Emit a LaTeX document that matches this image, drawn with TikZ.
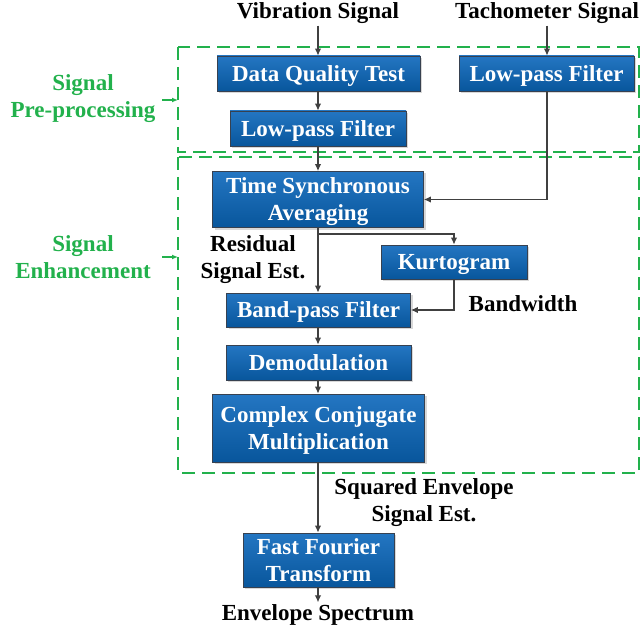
\documentclass[tikz,border=0pt]{standalone}
\usepackage{fontspec}
\setmainfont{Liberation Serif}
\usetikzlibrary{arrows.meta,shadows}
\definecolor{boxtop}{RGB}{36,118,194}
\definecolor{boxbot}{RGB}{8,86,156}
\definecolor{boxedge}{RGB}{55,65,80}
\definecolor{zonegreen}{RGB}{34,177,76}
\newcommand{\boxstrut}{\rule[-0.216em]{0pt}{1.106em}}
\newcommand{\tallstrut}{\rule{0pt}{0.9em}}
\tikzset{
	blk/.style={draw=boxedge, line width=0.8pt, top color=boxtop, bottom color=boxbot,
		text=white, font=\bfseries\fontsize{23}{27}\selectfont, align=center, inner sep=0pt,
		execute at begin node=\boxstrut, execute at end node=\boxstrut,
		drop shadow={shadow xshift=2pt, shadow yshift=-2pt, fill=black!30}},
	lbl/.style={font=\bfseries\fontsize{23}{27}\selectfont, align=center, inner sep=2pt},
	zonelbl/.style={lbl, text=zonegreen},
	flow/.style={draw=black!75, line width=1.2pt, -{Latex[length=7pt,width=6.5pt]}},
	zone/.style={draw=zonegreen, line width=2pt, dash pattern=on 13pt off 7pt},
}
\begin{document}
\begin{tikzpicture}[x=1pt, y=-1pt]
			%%%%% START %%%%%
			\useasboundingbox (0, 0) rectangle (641, 634);
			
			\draw[zone] (178, 47) rectangle (639, 152);
			\draw[zone] (178, 157) rectangle (639, 473);
			
			\node[zonelbl] (pre) at (83, 99) {Signal\\Pre-processing};
			\node[zonelbl] (enh) at (83, 257) {Signal\\Enhancement};
			\coordinate (preIn) at (178, 100);
			\coordinate (enhIn) at (178, 257);
			\draw[zonegreen, line width=1.2pt, -{Latex[length=6pt,width=5pt]}] (162, 100) -- (preIn);
			\draw[zonegreen, line width=1.2pt, -{Latex[length=6pt,width=5pt]}] (162, 257) -- (enhIn);
			
			\node[lbl] (vib) at (318, 13) {Vibration Signal};
			\node[lbl] (tach) at (547, 13) {Tachometer Signal};
			
			\node[blk, minimum width=203, minimum height=35] (dqt) at (318.5, 73.5) {Data Quality Test};
			\node[blk, minimum width=175, minimum height=35] (lpfR) at (546.5, 73.5) {Low-pass Filter};
			\node[blk, minimum width=176, minimum height=35] (lpfL) at (318, 128.5) {Low-pass Filter};
			\node[blk, minimum width=211, minimum height=56] (tsa) at (318, 199.5) {\tallstrut Time Synchronous\\Averaging};
			\node[blk, minimum width=146, minimum height=34] (kurt) at (454, 262) {Kurtogram};
			\node[blk, minimum width=184, minimum height=34] (bpf) at (318.5, 310) {Band-pass Filter};
			\node[blk, minimum width=185, minimum height=35] (demod) at (318.5, 362.5) {Demodulation};
			\node[blk, minimum width=212, minimum height=68] (ccm) at (318.5, 428) {\tallstrut Complex Conjugate\\Multiplication};
			\node[blk, minimum width=151, minimum height=54] (fft) at (318.5, 560) {\tallstrut Fast Fourier\\Transform};
			
			\node[lbl] (resid) at (253, 260) {Residual\\Signal Est.};
			\node[lbl] (bw) at (523, 304) {Bandwidth};
			\node[lbl] (sqenv) at (424, 503) {Squared Envelope\\Signal Est.};
			\node[lbl] (spec) at (318, 615) {Envelope Spectrum};
			
			\coordinate (split) at (318, 234);
			
			\draw[flow] (vib) -- (vib.south |- dqt.north);
			\draw[flow] (tach) -- (tach.south |- lpfR.north);
			\draw[flow] (dqt.south -| vib.south) -- (vib.south |- lpfL.north);
			\draw[flow] (lpfL.south -| vib.south) -- (vib.south |- tsa.north);
			\draw[flow] (lpfR.south -| tach.south) |- (tsa.east);
			\draw[flow] (tsa.south -| vib.south) -- (vib.south |- bpf.north);
			\draw[flow] (split) -| (kurt.north);
			\draw[flow] (kurt.south) |- (bpf.east);
			\draw[flow] (bpf.south -| vib.south) -- (vib.south |- demod.north);
			\draw[flow] (demod.south -| vib.south) -- (vib.south |- ccm.north);
			\draw[flow] (ccm.south -| vib.south) -- (vib.south |- fft.north);
			\draw[flow] (fft.south -| vib.south) -- (spec);
			
			%%%%% END %%%%%
\end{tikzpicture}
\end{document}
